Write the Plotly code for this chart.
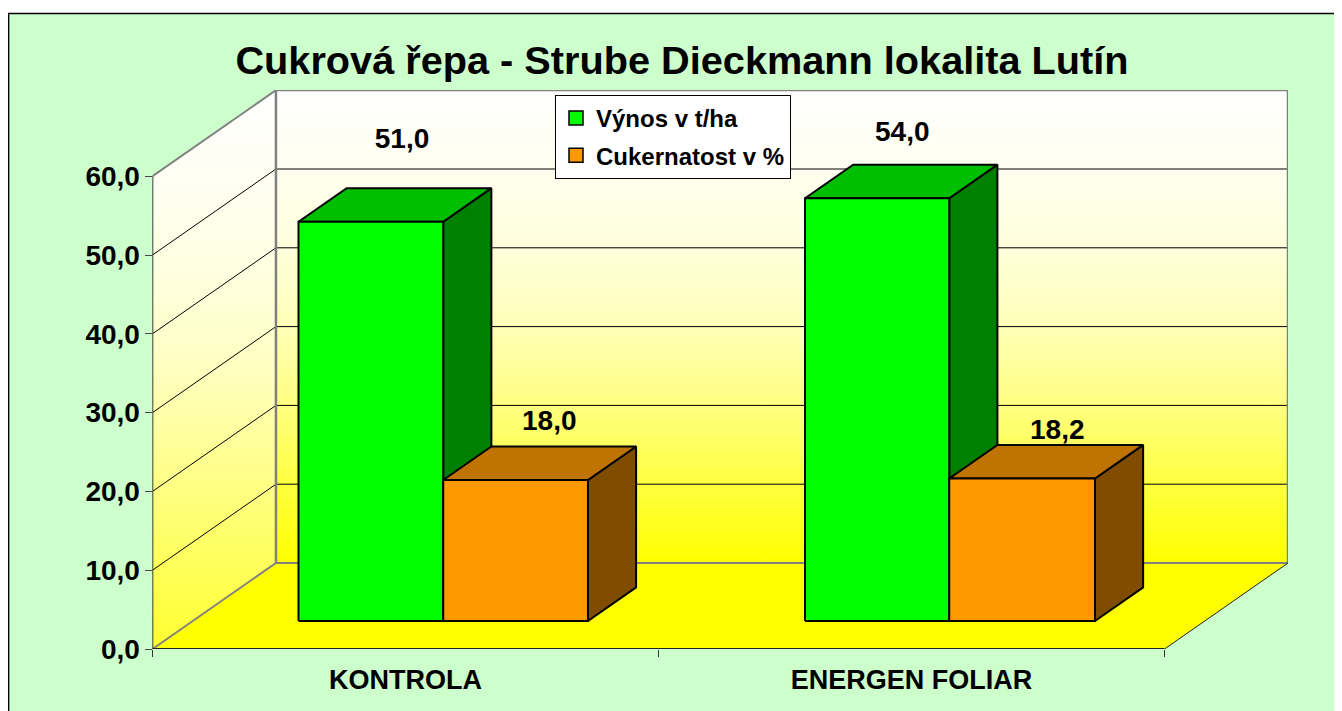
import plotly.graph_objects as go

# ---- data ----
categories = ["KONTROLA", "ENERGEN FOLIAR"]
vynos = [51.0, 54.0]
cukernatost = [18.0, 18.2]
series_names = ["Výnos v t/ha", "Cukernatost v %"]
y_ticks = [0, 10, 20, 30, 40, 50, 60]
y_tick_text = ["0,0", "10,0", "20,0", "30,0", "40,0", "50,0", "60,0"]
label_text_vynos = ["51,0", "54,0"]
label_text_cuk = ["18,0", "18,2"]

# ---- layout constants (pixels of the 1342x711 window) ----
PAGE = 8                   # the page's own margin before the figure starts
W, H = 1342 - PAGE, 711 - PAGE
AX_L, AX_R = 152.5 - PAGE, 1288 - PAGE
AX_B, AX_T = 649 - PAGE, 90 - PAGE
CAT_PX = 506.25            # one category, px
VAL_PX = 7.88              # one value unit, px
DEPTH_X = 123.5 / CAT_PX   # floor depth in category units
DEPTH_Y = 86 / VAL_PX      # floor depth in value units
BAR_D0, BAR_D1 = 0.326, 0.716
BAR_SCALE = 0.9935
BAR_EDGES = [(0.209, 0.495, 0.781), (0.210, 0.495, 0.783)]
SHIFT_V = [(-17, 47), (-23, 31)]
SHIFT_C = [(-14.5, 24), (-13, 13)]

LBL_FONT = dict(family="Liberation Sans", size=28, color="black", weight="bold")
GREY = "#808080"
BACK_WALL = [[0, "#FFFF00"], [1 / 6, "#FFFF40"], [2 / 6, "#FFFF80"], [3 / 6, "#FFFFB8"],
             [4 / 6, "#FFFFDC"], [5 / 6, "#FFFFF0"], [1, "#FFFFFF"]]
LEFT_WALL = [[0, "#FFFF30"], [1 / 6, "#FFFF60"], [2 / 6, "#FFFF90"], [3 / 6, "#FFFFC0"],
             [4 / 6, "#FFFFE0"], [5 / 6, "#FFFFF2"], [1, "#FFFFFF"]]


def p(x, d, v):
    return x + d * DEPTH_X, v + d * DEPTH_Y


def poly(points, fill, line="black", lw=2, grad=None):
    xs = [q[0] for q in points] + [points[0][0]]
    ys = [q[1] for q in points] + [points[0][1]]
    kw = dict(fillgradient=grad) if grad else dict(fillcolor=fill)
    return go.Scatter(x=xs, y=ys, mode="lines", fill="toself",
                      line=dict(color=line, width=lw), showlegend=False,
                      hoverinfo="skip", cliponaxis=False, **kw)


def seg(a, b, color="black", lw=1):
    return go.Scatter(x=[a[0], b[0]], y=[a[1], b[1]], mode="lines",
                      line=dict(color=color, width=lw), showlegend=False,
                      hoverinfo="skip", cliponaxis=False)


n = len(categories)
top = max(y_ticks)
fig = go.Figure()

# walls and floor
fig.add_trace(poly([p(0, 0, 0), p(0, 1, 0), p(0, 1, top), p(0, 0, top)], None,
                   line="rgba(0,0,0,0)", lw=0,
                   grad=dict(type="vertical", start=0, stop=top + DEPTH_Y, colorscale=LEFT_WALL)))
fig.add_trace(poly([p(0, 1, 0), p(n, 1, 0), p(n, 1, top), p(0, 1, top)], None,
                   line="rgba(0,0,0,0)", lw=0,
                   grad=dict(type="vertical", start=DEPTH_Y, stop=top + DEPTH_Y, colorscale=BACK_WALL)))
fig.add_trace(poly([p(0, 0, 0), p(n, 0, 0), p(n, 1, 0), p(0, 1, 0)], "#FFFF00",
                   line="rgba(0,0,0,0)", lw=0))

# gridlines
for v in y_ticks[1:-1]:
    fig.add_trace(seg(p(0, 0, v), p(0, 1, v)))
    fig.add_trace(seg(p(0, 1, v), p(n, 1, v)))
# wall outline
fig.add_trace(seg(p(0, 0, top), p(0, 1, top), GREY, 2))
fig.add_trace(seg(p(0, 1, top), p(n, 1, top), GREY, 2))
fig.add_trace(seg(p(n, 1, top), p(n, 1, 0), GREY, 2.5))
fig.add_trace(seg(p(0, 1, top), p(0, 1, 0), GREY, 2.5))
fig.add_trace(seg(p(0, 0, 0), p(0, 1, 0), GREY, 2))
fig.add_trace(seg(p(0, 1, 0), p(n, 1, 0), GREY, 2))
fig.add_trace(seg(p(n, 0, 0), p(n, 1, 0), "#222222", 1))
# axes
fig.add_trace(seg(p(0, 0, 0), p(n, 0, 0), "#222222", 2))
fig.add_trace(seg(p(0, 0, 0), p(0, 0, top), "black", 1.5))


def bar(x0, x1, v, col, ctop, cside):
    v = v * BAR_SCALE
    fig.add_trace(poly([p(x1, BAR_D0, 0), p(x1, BAR_D1, 0), p(x1, BAR_D1, v), p(x1, BAR_D0, v)], cside))
    fig.add_trace(poly([p(x0, BAR_D0, v), p(x1, BAR_D0, v), p(x1, BAR_D1, v), p(x0, BAR_D1, v)], ctop))
    fig.add_trace(poly([p(x0, BAR_D0, 0), p(x1, BAR_D0, 0), p(x1, BAR_D0, v), p(x0, BAR_D0, v)], col))


lx, ly, lt = [], [], []
for i in range(n):
    a, b, c = BAR_EDGES[i]
    bar(i + a, i + b, vynos[i], "#00FF00", "#00BF00", "#008000")
    bar(i + b, i + c, cukernatost[i], "#FF9900", "#BF7300", "#804D00")
    for (x0, x1, v, sh, t) in [(a, b, vynos[i], SHIFT_V[i], label_text_vynos[i]),
                               (b, c, cukernatost[i], SHIFT_C[i], label_text_cuk[i])]:
        q = p(i + (x0 + x1) / 2, BAR_D1, v * BAR_SCALE)
        lx.append(q[0] + sh[0] / CAT_PX)
        ly.append(q[1] + sh[1] / VAL_PX)
        lt.append(t)

fig.add_trace(go.Scatter(x=lx, y=ly, text=lt, mode="text", textposition="middle center",
                         textfont=LBL_FONT, showlegend=False, hoverinfo="skip", cliponaxis=False))

# legend entries
for name, col in zip(series_names, ["#00FF00", "#FF9900"]):
    fig.add_trace(go.Scatter(x=[None], y=[None], mode="markers", name=name, legendgroup=name,
                             marker=dict(symbol="square", size=14, color=col,
                                         line=dict(color="black", width=1.5))))

fig.update_layout(
    width=W, height=H, autosize=False,
    margin=dict(l=0, r=0, t=0, b=0, autoexpand=False),
    paper_bgcolor="white", plot_bgcolor="rgba(0,0,0,0)",
    title=dict(text="<b>Cukrová řepa - Strube Dieckmann lokalita Lutín</b>",
               x=(682 - PAGE) / W, xanchor="center", y=1 - (60 - PAGE) / H, yanchor="middle",
               font=dict(family="Liberation Sans", size=39.7, color="black")),
    xaxis=dict(domain=[AX_L / W, AX_R / W], range=[0, n + DEPTH_X], automargin=False,
               showgrid=False, zeroline=False, showline=False,
               tickmode="array", tickvals=[i + 0.5 for i in range(n)], ticktext=categories,
               ticks="", tickfont=dict(family="Liberation Sans", size=27, color="black", weight="bold"),
               ticklabelstandoff=12,
               minor=dict(tickmode="array", tickvals=list(range(n + 1)), ticks="outside",
                          ticklen=7, tickcolor="#333333", tickwidth=1, showgrid=False)),
    yaxis=dict(domain=[(H - AX_B) / H, (H - AX_T) / H], range=[0, (AX_B - AX_T) / VAL_PX], automargin=False,
               showgrid=False, zeroline=False, showline=False,
               tickmode="array", tickvals=y_ticks, ticktext=y_tick_text,
               ticks="outside", ticklen=7, tickcolor="#444444", tickwidth=1,
               tickfont=dict(family="Liberation Sans", size=28, color="black", weight="bold"),
               ticklabelstandoff=-1),
    legend=dict(x=(555 - PAGE) / W, y=1 - (95 - PAGE) / H, xanchor="left", yanchor="top",
                bgcolor="white", bordercolor="black", borderwidth=1,
                traceorder="grouped", tracegroupgap=3,
                font=dict(family="Liberation Sans", size=24, color="black", weight="bold")),
    shapes=[dict(type="rect", xref="paper", yref="paper", layer="below",
                 x0=0.6 / W, x1=1.01, y0=-0.02, y1=1 - 5.5 / H,
                 fillcolor="#CCFFCC", line=dict(color="black", width=1.5))],
)
fig.write_html("out.html")
